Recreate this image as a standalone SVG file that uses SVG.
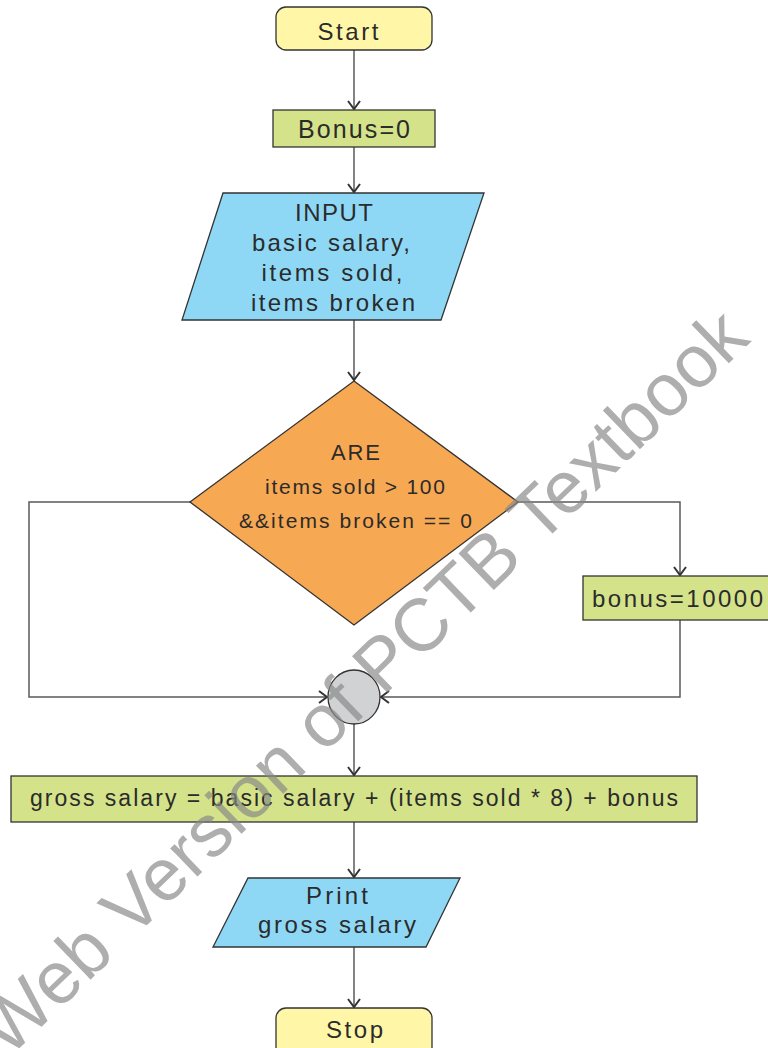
<svg xmlns="http://www.w3.org/2000/svg" width="768" height="1048" viewBox="0 0 768 1048">
<defs>
<style>
.t{font-family:"Liberation Sans",Arial,sans-serif;fill:#2b2b2b;text-anchor:middle;}
.s{stroke:#333;stroke-width:1.3;}
.c{fill:none;stroke:#5a5a5a;stroke-width:1.5;}
.wm{font-family:"Liberation Sans",Arial,sans-serif;fill:#888;fill-opacity:0.68;text-anchor:middle;}
</style>
<marker id="ah" markerWidth="14" markerHeight="14" refX="10" refY="7" orient="auto" markerUnits="userSpaceOnUse">
<path d="M2,1 L10,7 L2,13" fill="none" stroke="#333" stroke-width="2"/>
</marker>
</defs>
<rect width="768" height="1048" fill="#fff"/>
<g id="connectors">
<path class="c" d="M354,50 V109" marker-end="url(#ah)"/>
<path class="c" d="M354,147 V192" marker-end="url(#ah)"/>
<path class="c" d="M354,320 V380" marker-end="url(#ah)"/>
<path class="c" d="M190,502 H29 V697 H327" marker-end="url(#ah)"/>
<path class="c" d="M518,502 H680 V575" marker-end="url(#ah)"/>
<path class="c" d="M680,620 V697 H381" marker-end="url(#ah)"/>
<path class="c" d="M354,724 V775" marker-end="url(#ah)"/>
<path class="c" d="M354,822 V877" marker-end="url(#ah)"/>
<path class="c" d="M354,947 V1007" marker-end="url(#ah)"/>
</g>
<g id="start">
<rect class="s" x="276" y="7" width="156" height="43" rx="10" fill="#fff6a8"/>
<text class="t" x="348" y="39.5" font-size="24" textLength="61" lengthAdjust="spacing">Start</text>
</g>
<g id="bonus0">
<rect class="s" x="273" y="110" width="162" height="37" fill="#d4e38a"/>
<text class="t" x="354" y="138" font-size="25" textLength="112" lengthAdjust="spacing">Bonus=0</text>
</g>
<g id="input">
<polygon class="s" points="223,193 484,193 441,320 182,320" fill="#8fd8f5"/>
<text class="t" x="334" y="221" font-size="24" textLength="78" lengthAdjust="spacing">INPUT</text>
<text class="t" x="331" y="251" font-size="24" textLength="158" lengthAdjust="spacing">basic salary,</text>
<text class="t" x="332" y="281" font-size="24" textLength="141" lengthAdjust="spacing">items sold,</text>
<text class="t" x="333" y="311" font-size="24" textLength="164" lengthAdjust="spacing">items broken</text>
</g>
<g id="decision">
<polygon class="s" points="354,381 518,502 354,625 190,502" fill="#f7a852"/>
<text class="t" x="355.5" y="460" font-size="22" textLength="49" lengthAdjust="spacing">ARE</text>
<text class="t" x="355" y="494" font-size="21" textLength="180" lengthAdjust="spacing">items sold &gt; 100</text>
<text class="t" x="355.5" y="528" font-size="21" textLength="233" lengthAdjust="spacing">&amp;&amp;items broken == 0</text>
</g>
<g id="bonus10000">
<rect class="s" x="583" y="576" width="190" height="44" fill="#d4e38a"/>
<text class="t" x="677.5" y="607" font-size="24" textLength="171" lengthAdjust="spacing">bonus=10000</text>
</g>
<g id="join">
<ellipse class="s" cx="354" cy="697" rx="26" ry="27" fill="#d1d2d4"/>
</g>
<g id="gross">
<rect class="s" x="11" y="776" width="686" height="46" fill="#d4e38a"/>
<text class="t" x="354" y="806" font-size="23" textLength="648" lengthAdjust="spacing">gross salary = basic salary + (items sold * 8) + bonus</text>
</g>
<g id="print">
<polygon class="s" points="248,878 460,878 426,947 213,947" fill="#8fd8f5"/>
<text class="t" x="337" y="904" font-size="24" textLength="62" lengthAdjust="spacing">Print</text>
<text class="t" x="337" y="933" font-size="24" textLength="158" lengthAdjust="spacing">gross salary</text>
</g>
<g id="stop">
<rect class="s" x="276" y="1008" width="156" height="50" rx="10" fill="#fff6a8"/>
<text class="t" x="354.5" y="1038" font-size="24" textLength="57" lengthAdjust="spacing">Stop</text>
</g>
<g id="watermark">
<text class="wm" x="0" y="0" font-size="74" transform="translate(380,700) rotate(-44)">Web Version of PCTB Textbook</text>
</g>
</svg>
